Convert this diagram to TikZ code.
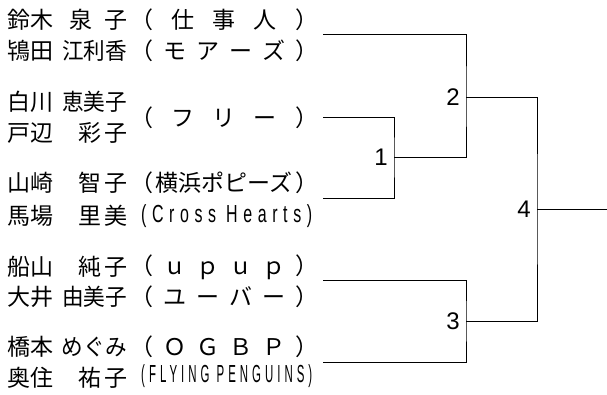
\documentclass[tikz,border=0pt]{standalone}
\usepackage{fontspec}
\usepackage{graphicx}
\usetikzlibrary{positioning}
\setmainfont{Liberation Sans}
\newfontfamily\jp{Noto Sans CJK JP}
\newfontfamily\narrow[LetterSpace=35]{Liberation Sans}
\newcommand{\pl}[2]{\makebox[120pt]{#1\hfill #2}}
\newcommand{\sq}[1]{\scalebox{0.94}[1]{#1}}
\newcommand{\tm}[1]{\makebox[188pt][s]{#1}}
\newcommand{\sm}[1]{\resizebox*{171pt}{23pt}{\narrow #1}}

\begin{document}
\begin{tikzpicture}[x=1pt,y=-1pt,node distance=6pt]
	\tikzstyle{player}=[anchor=west,inner sep=0,font=\jp\fontsize{23}{31}\selectfont]
	\tikzstyle{team}=[player]
	\tikzstyle{small}=[anchor=west,inner sep=0]
	\tikzstyle{match}=[inner sep=0,font=\fontsize{24}{28}\selectfont]
	\tikzstyle{wire}=[line width=0.9pt]
	\useasboundingbox (0,0) rectangle (607,394);
		\node[player] (p1) at (7,20) {\pl{鈴木}{泉\kern12pt 子}};
		\node[team] (t1) at (130,20) {\tm{（\hfill 仕\hfill 事\hfill 人\hfill ）}};
		\node[player] (p2) at (7,51) {\pl{鴇田}{\sq{江利香}}};
		\node[team] (t2) at (130,51) {\tm{（\hfill モ\hfill ア\hfill ー\hfill ズ\hfill ）}};
		\node[player] (p3) at (7,102) {\pl{白川}{\sq{恵美子}}};
		\node[player] (p4) at (7,133) {\pl{戸辺}{彩\kern3pt 子}};
		\node[team] (t3) at (130,118) {\tm{（\hfill フ\hfill リ\hfill ー\hfill ）}};
		\node[player] (p5) at (7,183) {\pl{山崎}{智\kern3pt 子}};
		\node[team] (t5) at (130,183) {\tm{（\hfill 横浜ポピーズ\hfill ）}};
		\node[player] (p6) at (7,216) {\pl{馬場}{里\kern3pt 美}};
		\node[small] (t6) at (141,216) {\sm{(Cross Hearts)}};
		\node[player] (p7) at (7,267) {\pl{船山}{純\kern3pt 子}};
		\node[team] (t7) at (130,267) {\tm{（\hfill ｕ\hfill ｐ\hfill ｕ\hfill ｐ\hfill ）}};
		\node[player] (p8) at (7,297) {\pl{大井}{\sq{由美子}}};
		\node[team] (t8) at (130,297) {\tm{（\hfill ユ\hfill ー\hfill バ\hfill ー\hfill ）}};
		\node[player] (p9) at (7,347) {\pl{橋本}{\sq{めぐみ}}};
		\node[team] (t9) at (130,347) {\tm{（\hfill Ｏ\hfill Ｇ\hfill Ｂ\hfill Ｐ\hfill ）}};
		\node[player] (p10) at (7,378) {\pl{奥住}{祐\kern3pt 子}};
		\node[small] (t10) at (141,376) {\sm{(FLYING PENGUINS)}};
		\coordinate (e1) at (323,34);
		\coordinate (e2) at (323,117);
		\coordinate (e3) at (323,198);
		\coordinate (e4) at (323,280);
		\coordinate (e5) at (323,362);
		\coordinate (m1) at (394,157);
		\coordinate (m2) at (466,97);
		\coordinate (m3) at (466,321);
		\coordinate (m4) at (537,209);
		\coordinate (win) at (607,209);
		\node[match, left=of m1] (n1) {1};
		\node[match, left=of m2] (n2) {2};
		\node[match, left=of m3] (n3) {3};
		\node[match, left=of m4] (n4) {4};
			\draw[wire] (e2) -| (m1) |- (e3);
			\draw[wire] (e1) -| (m2) |- (m1);
			\draw[wire] (e4) -| (m3) |- (e5);
			\draw[wire] (m2) -| (m4) |- (m3);
			\draw[wire] (m4) -- (win);
\end{tikzpicture}
\end{document}
